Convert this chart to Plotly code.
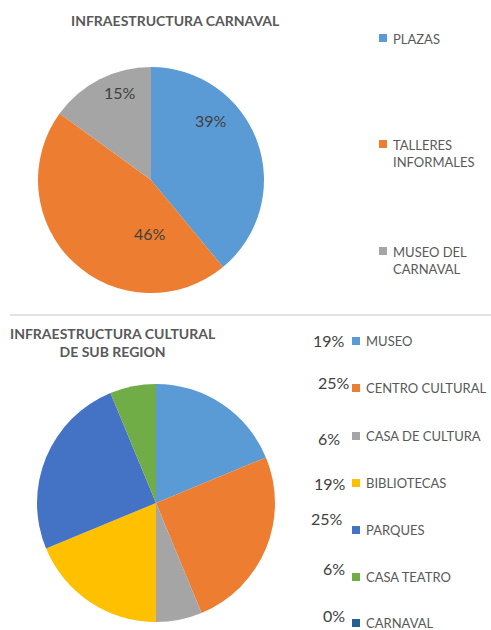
import plotly.graph_objects as go

W, H = 491, 630

# ---- data ----
top_title = "INFRAESTRUCTURA CARNAVAL"
top_labels = ["PLAZAS", "TALLERES<br>INFORMALES", "MUSEO DEL<br>CARNAVAL"]
top_values = [39, 46, 15]
top_colors = ["#5B9BD5", "#ED7D31", "#A5A5A5"]

bot_title = "INFRAESTRUCTURA CULTURAL<br>DE SUB REGION"
bot_labels = ["MUSEO", "CENTRO CULTURAL", "CASA DE CULTURA", "BIBLIOTECAS",
              "PARQUES", "CASA TEATRO", "CARNAVAL"]
bot_values = [3, 4, 1, 3, 4, 1, 0]
bot_colors = ["#5B9BD5", "#ED7D31", "#A5A5A5", "#FFC000", "#4472C4", "#70AD47", "#255E91"]

FONT = "Lato"
TXT = "#595959"
LBL = "#404040"


def px(x):
    return x / W


def py(y):
    return 1 - y / H


fig = go.Figure()

fig.add_trace(go.Pie(
    labels=top_labels, values=top_values, sort=False, direction="clockwise",
    marker=dict(colors=top_colors, line=dict(width=0)),
    textinfo="none",
    domain=dict(x=[px(38), px(264)], y=[py(293), py(67)]),
    showlegend=False, hoverinfo="label+percent",
))

fig.add_trace(go.Pie(
    labels=bot_labels, values=bot_values, sort=False, direction="clockwise",
    marker=dict(colors=bot_colors, line=dict(width=0)),
    textinfo="none",
    domain=dict(x=[px(37), px(275)], y=[py(622), py(384)]),
    showlegend=False, hoverinfo="label+percent",
))

annotations = []
shapes = []

# titles
annotations.append(dict(text="<b>%s</b>" % top_title, x=px(175), y=py(20), xref="paper", yref="paper",
                        showarrow=False, font=dict(family=FONT, size=14, color=TXT),
                        xanchor="center", yanchor="middle"))
annotations.append(dict(text="<b>%s</b>" % bot_title, x=px(113), y=py(342), xref="paper", yref="paper",
                        showarrow=False, font=dict(family=FONT, size=14, color=TXT),
                        xanchor="center", yanchor="middle", align="center"))

# separator
shapes.append(dict(type="line", xref="paper", yref="paper", x0=px(10), x1=1, y0=py(315), y1=py(315),
                   line=dict(color="#D9D9D9", width=1.5)))

# top data labels (placed like the reference)
top_lbl_pos = [(211, 120), (150, 233), (120, 92)]
ttot = sum(top_values)
for val, (tx, ty) in zip(top_values, top_lbl_pos):
    annotations.append(dict(text="%d%%" % round(100 * val / ttot), x=px(tx), y=py(ty),
                            xref="paper", yref="paper", showarrow=False,
                            font=dict(family=FONT, size=16, color=LBL),
                            xanchor="center", yanchor="middle"))

# top legend
top_leg_y = [38, 144, 251]
for lab, col, yy in zip(top_labels, top_colors, top_leg_y):
    shapes.append(dict(type="rect", xref="paper", yref="paper", x0=px(379), x1=px(387),
                       y0=py(yy + 4), y1=py(yy - 4), fillcolor=col, line=dict(width=0)))
    annotations.append(dict(text=lab, x=px(391), y=py(yy - 9), xref="paper", yref="paper",
                            showarrow=False, font=dict(family=FONT, size=13, color=TXT),
                            xanchor="left", yanchor="top", align="left"))

# bottom legend with percentage labels
bot_leg_y = [341, 388, 436, 483, 530, 577, 623]
pct_pos = [(347, 340), (352, 382), (342, 438), (348, 483), (345, 518), (347, 568), (347, 615)]
total = sum(bot_values)
for lab, col, val, yy, (tx, ty) in zip(bot_labels, bot_colors, bot_values, bot_leg_y, pct_pos):
    shapes.append(dict(type="rect", xref="paper", yref="paper", x0=px(352), x1=px(360),
                       y0=py(yy + 4), y1=py(yy - 4), fillcolor=col, line=dict(width=0)))
    annotations.append(dict(text=lab, x=px(364), y=py(yy), xref="paper", yref="paper",
                            showarrow=False, font=dict(family=FONT, size=13, color=TXT),
                            xanchor="left", yanchor="middle"))
    annotations.append(dict(text="%d%%" % round(100 * val / total), x=px(tx), y=py(ty),
                            xref="paper", yref="paper", showarrow=False,
                            font=dict(family=FONT, size=16, color=LBL),
                            xanchor="right", yanchor="middle"))

fig.update_layout(
    width=W, height=H, margin=dict(l=0, r=0, t=0, b=0),
    paper_bgcolor="white", plot_bgcolor="white",
    annotations=annotations, shapes=shapes,
    font=dict(family=FONT, color=TXT),
)

fig.write_html("out.html")
